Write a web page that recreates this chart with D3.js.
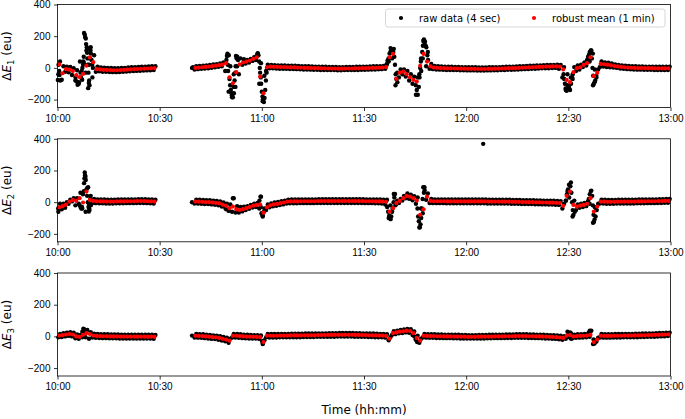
<!DOCTYPE html>
<html>
<head>
<meta charset="utf-8">
<script src="https://cdn.jsdelivr.net/npm/d3@7"></script>
<style>
  body { margin: 0; background: #fff; }
  svg { display: block; font-family: "DejaVu Sans", sans-serif; }
  .axis path, .axis line { stroke: #000; stroke-width: 0.8; }
  .axis text { font-size: 10px; fill: #000; }
</style>
</head>
<body>
<script>
// minutes after 10:00; data has a gap between 10:29 and 10:40
const minutesA = d3.range(0, 29);
const minutesB = d3.range(40, 180);
const xTicks = [0, 30, 60, 90, 120, 150, 180];
const yTicks = [-200, 0, 200, 400];
const legendLabels = ["raw data (4 sec)", "robust mean (1 min)"];

// robust mean (1 min), panel 1
const mean1 = [
  22,-34,-8,-11,-20,-45,-58,-38,14,66,36,-8,-10,-12,-13,-14,-15,-15,-14,-13,-11,-9,-8,-7,-6,-5,-4,-3,-1,
  0,2,4,6,8,11,14,17,21,30,
  -59,-97,-27,23,34,40,46,57,67,-55,
  -160,4,8,7,6,5,5,4,3,3,
  2,1,0,0,-1,-2,-2,-3,-3,-4,
  -4,-4,-5,-5,-4,-4,-4,-3,-3,-2,
  -2,-1,0,0,1,2,5,67,88,-69,
  -30,-23,-40,-59,-76,-86,13,88,40,10,
  2,0,-1,-2,-3,-3,-4,-4,-5,-5,
  -6,-6,-6,-7,-7,-7,-6,-6,-5,-5,
  -4,-3,-2,-2,-1,0,1,2,3,4,
  5,6,7,8,8,9,10,8,-10,-76,
  -90,-27,-2,4,19,30,67,-51,-30,25,
  23,20,16,12,9,6,4,2,1,0,
  -1,-1,-2,-2,-2,-3,-3,-3,-3,-3
];
// raw data (4 sec): lowest and highest samples of each minute, panel 1
const rawLo1 = [
  -40,-75,-25,-28,-45,-80,-100,-75,-30,20,-60,-25,-22,-24,-25,-26,-27,-27,-26,-25,-23,-21,-20,-19,-18,-17,-16,-15,-13,
  -10,-8,-6,-4,-2,1,4,7,10,-20,
  -150,-185,-120,-40,20,28,34,44,50,-100,
  -210,-20,-2,-3,-4,-5,-5,-6,-7,-7,
  -8,-9,-10,-10,-11,-12,-12,-13,-13,-14,
  -14,-14,-15,-15,-14,-14,-14,-13,-13,-12,
  -12,-11,-10,-10,-9,-8,-5,40,60,-110,
  -60,-40,-55,-80,-100,-170,-40,60,10,-5,
  -8,-10,-11,-12,-13,-13,-14,-14,-15,-15,
  -16,-16,-16,-17,-17,-17,-16,-16,-15,-15,
  -14,-13,-12,-12,-11,-10,-9,-8,-7,-6,
  -5,-4,-3,-2,-2,-1,0,-5,-60,-140,
  -130,-70,-20,-10,5,15,40,-110,-60,5,
  8,6,4,2,0,-4,-6,-8,-9,-10,
  -11,-11,-12,-12,-12,-13,-13,-13,-13,-13
];
const rawHi1 = [
  40,10,8,6,-2,-15,-30,30,120,130,80,8,3,1,0,-1,-2,-2,-1,0,2,4,5,6,7,8,9,10,11,
  10,12,14,16,18,21,24,28,35,75,
  10,-40,10,60,55,50,56,67,90,30,
  -50,20,18,17,16,15,15,14,13,13,
  12,11,10,10,9,8,8,7,7,6,
  6,6,5,5,6,6,6,7,7,8,
  8,9,10,10,11,12,25,100,120,-30,
  -10,-10,-20,-40,-55,-60,60,160,100,25,
  12,10,9,8,7,7,6,6,5,5,
  4,4,4,3,3,3,4,4,5,5,
  6,7,8,8,9,10,11,12,13,14,
  15,16,17,18,18,19,20,18,5,-40,
  -60,5,15,20,35,55,110,-10,-10,40,
  35,32,28,22,19,16,14,12,11,10,
  9,9,8,8,8,7,7,7,7,7
];
const spikes1 = [
  [0.1,-76],[0.3,20],[0.5,-20],[0.6,-45],[0.8,-80],[5.3,-60],[5.6,-85],[5.9,-107],[6.0,-100],[6.3,-90],
  [6.6,40],[6.9,-60],[7.1,-20],[7.3,0],[7.5,20],[7.6,40],[7.7,70],[7.8,220],[8.0,210],[8.1,195],
  [8.3,185],[8.4,150],[8.5,110],[8.6,130],[8.7,95],[8.8,60],[8.9,20],[9.0,-128],[9.1,-30],[9.2,-95],
  [9.3,-80],[9.4,-110],[9.5,125],[9.6,60],[9.7,110],[9.8,90],[10.0,50],[10.2,20],[10.4,0],
  [39.5,0],[39.8,4],[49.6,50],[49.9,90],[50.0,20],[50.1,-20],[50.3,80],[50.5,-70],[50.7,-110],[50.9,-140],
  [51.1,-160],[51.2,-175],[51.5,-185],[51.7,-120],[51.8,-160],[52.0,-80],[52.2,-30],[52.3,10],[52.4,75],
  [52.6,60],[52.8,70],[53.0,50],[58.5,75],[58.8,93],[59.0,80],[59.2,40],[59.4,0],[59.5,-30],[59.7,-60],
  [59.8,-100],[60.0,-150],[60.2,-180],[60.3,-200],[60.6,-215],[60.8,-190],[61.0,-140],[61.2,-80],
  [61.4,-30],[61.6,0],
  [96.6,20],[96.9,45],[97.2,60],[97.5,90],[97.8,125],[98.0,115],[98.3,110],[98.6,100],[98.9,70],
  [99.1,20],[99.3,-40],[99.5,-70],[99.8,-90],[105.2,-110],[105.5,-140],[105.8,-170],[106.1,-120],
  [106.3,-60],[106.5,0],[106.7,40],[106.8,-20],[107.1,100],[107.3,140],[107.4,170],[107.6,180],
  [107.9,165],[108.1,140],[108.3,130],[108.6,80],[108.8,50],
  [148.6,-40],[148.8,-70],[149.0,-100],[149.2,-130],[149.5,-145],[149.8,-110],[150.2,-120],[150.5,-140],
  [150.8,-100],[151.1,-60],[151.3,-40],[155.5,50],[155.8,70],[156.1,85],[156.3,100],[156.6,110],
  [156.9,60],[157.1,0],[157.2,90],[157.3,-50],[157.5,-100],[157.7,-90],[157.9,-80],[158.2,-50]
];

// panel 2
const mean2 = [
  -32,-25,-15,4,14,8,25,-2,67,14,8,6,5,5,4,4,4,5,5,5,6,6,6,7,7,7,6,5,4,
  4,3,2,1,0,-2,-4,-8,-15,-23,
  -38,-28,-45,-49,-44,-38,-30,-22,-17,-15,
  -66,-32,-20,-14,-11,-6,-2,4,5,5,
  5,6,6,6,6,6,7,7,7,7,
  7,7,7,7,7,7,7,7,7,7,
  6,6,6,5,5,4,2,-59,-38,-5,
  8,25,40,35,25,10,-80,-45,35,8,
  6,6,6,6,5,5,5,5,5,5,
  5,5,5,5,5,5,4,4,4,4,
  3,3,3,2,2,2,1,1,0,0,
  -1,-1,-2,-2,-3,-3,-4,-5,-23,40,
  67,-17,-28,-22,-17,-10,25,-59,-28,4,
  3,2,2,2,3,3,3,4,4,4,
  5,5,5,6,6,6,7,7,8,8
];
const rawLo2 = [
  -60,-45,-35,-10,5,-20,-10,-40,-60,-10,-5,-6,-7,-7,-8,-8,-8,-7,-7,-7,-6,-6,-6,-5,-5,-5,-6,-7,-8,
  -8,-9,-10,-11,-12,-14,-16,-20,-28,-35,
  -55,-60,-65,-65,-58,-50,-42,-34,-30,-40,
  -90,-50,-32,-26,-23,-18,-14,-8,-7,-7,
  -7,-6,-6,-6,-6,-6,-5,-5,-5,-5,
  -5,-5,-5,-5,-5,-5,-5,-5,-5,-5,
  -6,-6,-6,-7,-7,-8,-15,-100,-60,-20,
  -5,10,25,22,12,-10,-160,-70,15,-5,
  -6,-6,-6,-6,-7,-7,-7,-7,-7,-7,
  -7,-7,-7,-7,-7,-7,-8,-8,-8,-8,
  -9,-9,-9,-10,-10,-10,-11,-11,-12,-12,
  -13,-13,-14,-14,-15,-15,-16,-17,-40,10,
  30,-90,-50,-35,-30,-25,-10,-130,-50,-8,
  -9,-10,-10,-10,-9,-9,-9,-8,-8,-8,
  -7,-7,-7,-6,-6,-6,-5,-5,-4,-4
];
const rawHi2 = [
  -10,-10,0,15,25,25,60,70,90,40,20,18,17,17,16,16,16,17,17,17,18,18,18,19,19,19,18,17,16,
  16,15,14,13,12,10,8,4,-2,-10,
  -15,25,-25,-30,-28,-25,-18,-10,-5,35,
  -40,-15,-8,-2,1,6,10,16,17,17,
  17,18,18,18,18,18,19,19,19,19,
  19,19,19,19,19,19,19,19,19,19,
  18,18,18,17,17,16,15,-20,52,10,
  20,40,55,48,38,30,-40,95,55,20,
  18,18,18,18,17,17,17,17,17,17,
  17,17,17,17,17,17,16,16,16,16,
  15,15,15,14,14,14,13,13,12,12,
  11,11,10,10,9,9,8,7,-10,70,
  124,10,-15,-10,-5,5,73,-30,-10,16,
  15,14,14,14,15,15,15,16,16,16,
  17,17,17,18,18,18,19,19,20,20
];
const spikes2 = [
  [0.2,-40],[6.5,-20],[6.8,-33],[7.0,-40],[7.2,-30],[7.5,50],[7.8,120],[7.9,150],[8.0,187],[8.1,170],
  [8.2,160],[8.3,140],[8.5,80],[8.7,40],[8.9,0],[9.0,95],[9.1,-30],[9.2,-59],[9.3,-40],[9.4,-50],
  [9.6,20],[9.8,-20],[39.5,0],[49.5,-45],[51.5,25],[59.3,10],[59.6,35],[59.7,-30],[59.9,-70],[60.1,-80],
  [60.3,-85],[60.6,-60],[96.8,-30],[97.1,-60],[97.4,-85],[97.6,-100],[97.8,-107],[98.0,-90],[98.4,-40],
  [98.7,0],[98.9,30],[99.1,52],[105.7,-40],[105.9,-90],[106.1,-120],[106.4,-158],[106.6,-140],
  [106.8,-100],[107.0,-40],[107.2,20],[107.4,95],[107.6,60],[107.8,75],[125,368],
  [149.3,10],[149.6,50],[149.9,80],[150.2,110],[150.6,100],[150.9,60],[151.1,0],[151.3,-50],[151.5,-80],
  [151.9,-60],[156.0,20],[156.3,50],[156.6,70],[157.0,40],[157.2,-20],[157.4,-80],[157.5,-125],
  [157.7,-110],[158.0,-90],[158.3,-50]
];

// panel 3
const mean3 = [
  5,8,12,15,12,0,-3,10,21,15,5,3,2,1,1,0,0,0,-1,-1,-1,-1,-2,-2,-2,-2,-2,-2,-3,
  4,3,2,0,-2,-5,-6,-10,-15,-20,
  -27,4,4,2,0,-1,-2,-3,-3,-5,
  -36,5,4,4,4,5,5,5,6,6,
  6,6,7,7,7,7,8,8,8,9,
  9,9,10,10,10,10,10,9,9,8,
  8,7,7,6,5,5,3,-15,21,25,
  30,32,36,34,20,-10,-27,4,3,2,
  2,1,1,0,0,0,-1,-1,-2,-2,
  -3,-3,-3,-2,-2,-2,-1,-1,0,0,
  0,1,1,1,2,2,2,2,1,1,
  0,0,-1,-2,-3,-4,-5,-7,-10,5,
  8,0,2,3,4,5,10,-36,-20,4,
  3,3,3,4,4,4,5,5,5,6,
  6,7,7,8,8,9,10,11,12,13
];
const rawLo3 = [
  -6,-4,0,3,0,-12,-15,-5,-5,-15,-7,-9,-10,-11,-11,-12,-12,-12,-13,-13,-13,-13,-14,-14,-14,-14,-14,-14,-15,
  -7,-8,-9,-11,-13,-16,-17,-21,-26,-31,
  -40,-8,-7,-9,-11,-12,-13,-14,-14,-16,
  -48,-6,-7,-7,-7,-6,-6,-6,-5,-5,
  -5,-5,-4,-4,-4,-4,-3,-3,-3,-2,
  -2,-2,-1,-1,-1,-1,-1,-2,-2,-3,
  -3,-4,-4,-5,-6,-6,-8,-25,10,14,
  19,21,25,23,9,-22,-40,-7,-8,-9,
  -9,-10,-10,-11,-11,-11,-12,-12,-13,-13,
  -14,-14,-14,-13,-13,-13,-12,-12,-11,-11,
  -11,-10,-10,-10,-9,-9,-9,-9,-10,-10,
  -11,-11,-12,-13,-14,-15,-16,-18,-21,-15,
  -5,-12,-9,-8,-7,-6,-2,-48,-32,-7,
  -8,-8,-8,-7,-7,-7,-6,-6,-6,-5,
  -5,-4,-4,-3,-3,-2,-1,0,1,2
];
const rawHi3 = [
  16,20,24,27,24,12,9,30,40,27,17,15,14,13,13,12,12,12,11,11,11,11,10,10,10,10,10,10,9,
  15,14,13,11,9,6,5,1,-4,-9,
  -14,15,15,13,11,10,9,8,8,6,
  -24,16,15,15,15,16,16,16,17,17,
  17,17,18,18,18,18,19,19,19,20,
  20,20,21,21,21,21,21,20,20,19,
  19,18,18,17,16,16,14,-5,32,36,
  41,43,47,45,31,5,-15,15,14,13,
  13,12,12,11,11,11,10,10,9,9,
  8,8,8,9,9,9,10,10,11,11,
  11,12,12,12,13,13,13,13,12,12,
  11,11,10,9,8,7,6,4,1,30,
  20,11,13,14,15,16,36,-24,-8,15,
  14,14,14,15,15,15,16,16,16,17,
  17,18,18,19,19,20,21,22,23,24
];
const spikes3 = [
  [7.3,30],[7.6,49],[7.8,45],[7.9,35],[8.2,25],[39.5,5],[60.1,-30],[60.3,-45],[104.8,0],[105.2,-20],
  [105.6,-35],[150.2,15],[150.5,25],[150.8,-15],[156.0,25],[156.3,36],[157.4,-20],[157.7,-45]
];

const panels = [
  { mean: mean1, lo: rawLo1, hi: rawHi1, spikes: spikes1 },
  { mean: mean2, lo: rawLo2, hi: rawHi2, spikes: spikes2 },
  { mean: mean3, lo: rawLo3, hi: rawHi3, spikes: spikes3 }
];

const W = 685, H = 419;
const margin = { left: 57.5, right: 14.5 };
const panelTop = [4.5, 138.8, 273];
const panelH = 103;
const minutes = minutesA.concat(minutesB);

const svg = d3.select("body").append("svg")
    .attr("width", W)
    .attr("height", H);

const x = d3.scaleLinear()
    .domain([0, 180])
    .range([margin.left, W - margin.right]);

function clock(m) {
  return `${10 + Math.floor(m / 60)}:${d3.format("02d")(m % 60)}`;
}

panels.forEach((p, i) => {
  const y = d3.scaleLinear()
      .domain([-250, 400])
      .range([panelTop[i] + panelH, panelTop[i]]);

  const g = svg.append("g");

  g.append("g")
      .attr("class", "axis")
      .attr("transform", `translate(0,${panelTop[i] + panelH})`)
      .call(d3.axisBottom(x).tickValues(xTicks).tickFormat(clock).tickSize(3.5).tickPadding(3.5))
      .call(a => a.select(".domain").remove());

  g.append("g")
      .attr("class", "axis")
      .attr("transform", `translate(${margin.left},0)`)
      .call(d3.axisLeft(y).tickValues(yTicks).tickSize(3.5).tickPadding(3.5))
      .call(a => a.select(".domain").remove());

  // raw samples
  const raw = [];
  minutes.forEach((m, k) => {
    raw.push([m + 0.25, p.lo[k]]);
    raw.push([m + 0.75, p.hi[k]]);
  });
  p.spikes.forEach(s => raw.push(s));

  g.append("g").selectAll("circle")
    .data(raw)
    .enter().append("circle")
      .attr("cx", d => x(d[0]))
      .attr("cy", d => y(d[1]))
      .attr("r", 2.2)
      .attr("fill", "#000");

  g.append("g").selectAll("circle")
    .data(minutes.map((m, k) => [m + 0.5, p.mean[k]]))
    .enter().append("circle")
      .attr("cx", d => x(d[0]))
      .attr("cy", d => y(d[1]))
      .attr("r", 2.1)
      .attr("fill", "#ff0000");

  // frame
  g.append("rect")
      .attr("x", margin.left)
      .attr("y", panelTop[i])
      .attr("width", W - margin.right - margin.left)
      .attr("height", panelH)
      .attr("fill", "none")
      .attr("stroke", "#000")
      .attr("stroke-width", 0.8);

  const lab = g.append("text")
      .attr("transform", `translate(11,${panelTop[i] + panelH / 2}) rotate(-90)`)
      .attr("text-anchor", "middle")
      .style("font-size", "12px");
  lab.append("tspan").text("Δ");
  lab.append("tspan").style("font-style", "italic").text("E");
  lab.append("tspan").attr("dy", 3).style("font-size", "8.5px").text(String(i + 1));
  lab.append("tspan").attr("dy", -3).text(" (eu)");
});

svg.append("text")
    .attr("x", (margin.left + W - margin.right) / 2)
    .attr("y", 414)
    .attr("text-anchor", "middle")
    .style("font-size", "12px")
    .text("Time (hh:mm)");

// legend
const legend = svg.append("g");
legend.append("rect")
    .attr("x", 385.5)
    .attr("y", 9)
    .attr("width", 279.5)
    .attr("height", 18)
    .attr("rx", 2.5)
    .attr("fill", "#fff")
    .attr("fill-opacity", 0.8)
    .attr("stroke", "#cccccc")
    .attr("stroke-width", 0.8);

const legendColors = ["#000", "#ff0000"];
const legendX = [401, 534];
legendLabels.forEach((t, i) => {
  legend.append("circle")
      .attr("cx", legendX[i])
      .attr("cy", 18)
      .attr("r", 2.1)
      .attr("fill", legendColors[i]);
  legend.append("text")
      .attr("x", legendX[i] + 18)
      .attr("y", 21.5)
      .style("font-size", "10px")
      .text(t);
});
</script>
</body>
</html>
